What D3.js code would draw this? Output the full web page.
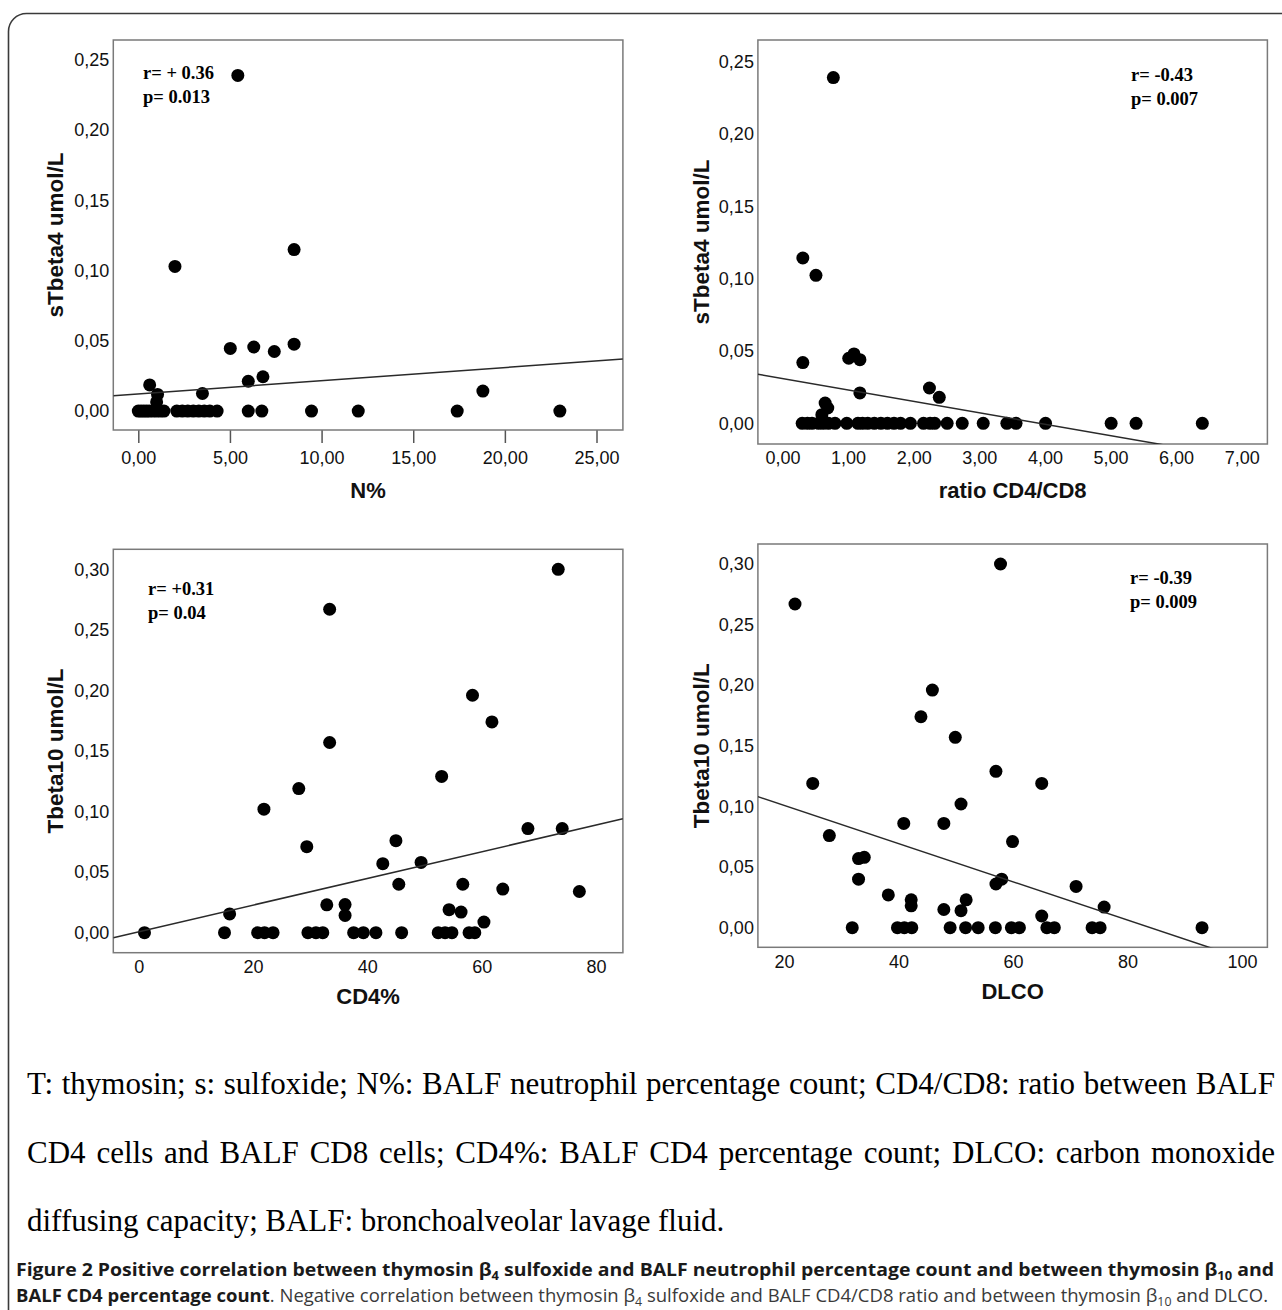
<!DOCTYPE html>
<html>
<head>
<meta charset="utf-8">
<script src="https://cdn.jsdelivr.net/npm/d3@7"></script>
<style>
  body { margin: 0; background: #fff; }
  svg { display: block; }
</style>
</head>
<body>
<div id="chart"></div>
<script>
const width = 1282;
const height = 1310;

// A: BALF neutrophil % vs sTbeta4
const nPct = [5.43, 2.0, 8.5, 5.02, 6.3, 7.42, 8.5, 6.0, 6.8, 0.62, 1.05, 1.0, 3.5, 18.8,
  0, 0.15, 0.3, 0.45, 0.6, 0.8, 1.0, 1.2, 1.4, 2.1, 2.4, 2.7, 3.0, 3.3, 3.6, 3.9, 4.3,
  6.0, 6.74, 9.45, 12.0, 17.4, 23.0];
const nPctTb4 = [0.239, 0.103, 0.115, 0.0446, 0.0456, 0.0424, 0.0476, 0.0212, 0.0244, 0.0186, 0.0118, 0.0065, 0.0125, 0.0142,
  0, 0, 0, 0, 0, 0, 0, 0, 0, 0, 0, 0, 0, 0, 0, 0, 0,
  0, 0, 0, 0, 0, 0];

// B: CD4/CD8 ratio vs sTbeta4
const ratio = [0.775, 0.31, 0.51, 0.31, 1.01, 1.09, 1.18, 1.18, 2.24, 2.39, 0.65, 0.69, 0.6,
  0.3, 0.38, 0.45, 0.55, 0.62, 0.7, 0.8, 0.98, 1.15, 1.22, 1.3, 1.4, 1.5, 1.6, 1.7, 1.8, 1.95, 2.15, 2.25, 2.32,
  2.51, 2.74, 3.06, 3.42, 3.56, 4.01, 5.01, 5.39, 6.4];
const ratioTb4 = [0.239, 0.1143, 0.1023, 0.042, 0.045, 0.048, 0.044, 0.021, 0.0244, 0.018, 0.014, 0.0106, 0.006,
  0, 0, 0, 0, 0, 0, 0, 0, 0, 0, 0, 0, 0, 0, 0, 0, 0, 0, 0, 0,
  0, 0, 0, 0, 0, 0, 0, 0, 0];

// C: CD4% vs Tbeta10
const cd4 = [73.4, 33.4, 58.4, 61.8, 33.4, 53.0, 28.0, 21.9, 29.4, 45.0, 68.1, 74.1, 42.7, 49.4, 45.5, 56.7, 63.7, 77.1,
  32.9, 36.1, 36.1, 15.9, 54.3, 56.4, 60.4,
  1.0, 15.0, 20.8, 22.0, 23.5, 29.6, 31.0, 32.2, 37.6, 39.3, 41.5, 46.0, 52.4, 53.6, 54.8, 57.8, 58.8];
const cd4Tb10 = [0.300, 0.267, 0.196, 0.174, 0.157, 0.129, 0.119, 0.102, 0.071, 0.076, 0.086, 0.086, 0.057, 0.058, 0.040, 0.040, 0.036, 0.034,
  0.023, 0.0232, 0.0143, 0.0155, 0.019, 0.017, 0.0088,
  0, 0, 0, 0, 0, 0, 0, 0, 0, 0, 0, 0, 0, 0, 0, 0, 0];

// D: DLCO vs Tbeta10
const dlco = [57.8, 21.9, 45.9, 43.9, 49.9, 57.0, 65.0, 25.0, 50.9, 40.9, 47.9, 59.9, 27.9, 33.0, 34.0, 33.0, 57.0, 58.0,
  71.0, 38.2, 42.2, 42.2, 51.8, 47.9, 50.9, 75.9, 65.0,
  31.9, 39.8, 41.0, 42.3, 49.0, 51.7, 53.9, 56.9, 59.7, 61.1, 65.9, 67.2, 73.8, 75.2, 93.0];
const dlcoTb10 = [0.300, 0.267, 0.196, 0.174, 0.157, 0.129, 0.119, 0.119, 0.102, 0.086, 0.086, 0.071, 0.076, 0.057, 0.058, 0.040, 0.036, 0.040,
  0.034, 0.027, 0.023, 0.018, 0.023, 0.015, 0.014, 0.017, 0.0096,
  0, 0, 0, 0, 0, 0, 0, 0, 0, 0, 0, 0, 0, 0, 0];

// fit lines: [intercept, slope]
const fitA = [0.0122, 0.00094];
const fitB = [0.031, -0.0079];
const fitC = [0.0008, 0.0011];
const fitD = [0.1324, -0.001577];

const ticksXA = [0, 5, 10, 15, 20, 25];
const ticksXB = [0, 1, 2, 3, 4, 5, 6, 7];
const ticksXC = [0, 20, 40, 60, 80];
const ticksXD = [20, 40, 60, 80, 100];
const ticksY25 = [0, 0.05, 0.10, 0.15, 0.20, 0.25];
const ticksY30 = [0, 0.05, 0.10, 0.15, 0.20, 0.25, 0.30];

const stats = [["r= + 0.36", "p= 0.013"], ["r= -0.43", "p= 0.007"], ["r= +0.31", "p= 0.04"], ["r= -0.39", "p= 0.009"]];

const comma2 = v => d3.format(".2f")(v).replace(".", ",");

const panels = [
  { x: nPct, y: nPctTb4, fit: fitA, xt: ticksXA, yt: ticksY25, xf: comma2, tick: 13,
    box: [113.3, 40, 622.9, 430], xd: [-1.364, 26.44], yd: [-0.0135, 0.2642],
    xTitle: "N%", yTitle: "sTbeta4 umol/L", xTitleY: 497.5, yTitleX: 55, stat: stats[0], statX: 143, statY: 79 },
  { x: ratio, y: ratioTb4, fit: fitB, xt: ticksXB, yt: ticksY25, xf: comma2, tick: 0,
    box: [757.9, 40, 1267.4, 444], xd: [-0.375, 7.392], yd: [-0.0143, 0.265],
    xTitle: "ratio CD4/CD8", yTitle: "sTbeta4 umol/L", xTitleY: 497.5, yTitleX: 701, stat: stats[1], statX: 1131, statY: 81 },
  { x: cd4, y: cd4Tb10, fit: fitC, xt: ticksXC, yt: ticksY30, xf: d3.format("d"), tick: 0,
    box: [113.3, 549.3, 622.9, 952.7], xd: [-4.46, 84.72], yd: [-0.0165, 0.3165],
    xTitle: "CD4%", yTitle: "Tbeta10 umol/L", xTitleY: 1004, yTitleX: 55, stat: stats[2], statX: 148, statY: 594.5 },
  { x: dlco, y: dlcoTb10, fit: fitD, xt: ticksXD, yt: ticksY30, xf: d3.format("d"), tick: 0,
    box: [757.9, 544, 1267.4, 947.3], xd: [15.42, 104.42], yd: [-0.0162, 0.3165],
    xTitle: "DLCO", yTitle: "Tbeta10 umol/L", xTitleY: 999, yTitleX: 701, stat: stats[3], statX: 1130, statY: 583.5 }
];

const svg = d3.select("#chart")
  .append("svg")
  .attr("width", width)
  .attr("height", height);

svg.append("rect")
  .attr("x", 8.5).attr("y", 13.5)
  .attr("width", 1300).attr("height", 1330)
  .attr("rx", 18)
  .attr("fill", "none")
  .attr("stroke", "#3a3a3a")
  .attr("stroke-width", 1.6);

panels.forEach((p, k) => {
  const [x0, y0, x1, y1] = p.box;
  const xScale = d3.scaleLinear().domain(p.xd).range([x0, x1]);
  const yScale = d3.scaleLinear().domain(p.yd).range([y1, y0]);
  const g = svg.append("g");

  g.append("clipPath").attr("id", "clip" + k)
    .append("rect").attr("x", x0).attr("y", y0).attr("width", x1 - x0).attr("height", y1 - y0);

  // y axis labels
  const yAxis = g.append("g")
    .attr("transform", `translate(${x0}, 0)`)
    .call(d3.axisLeft(yScale).tickValues(p.yt).tickFormat(comma2).tickSize(0).tickPadding(4));
  yAxis.select(".domain").remove();

  const xAxis = g.append("g")
    .attr("transform", `translate(0, ${y1})`)
    .call(d3.axisBottom(xScale).tickValues(p.xt).tickFormat(p.xf).tickSize(p.tick).tickPadding(p.tick ? 8 : 7.5));
  xAxis.select(".domain").remove();
  xAxis.selectAll(".tick line").attr("stroke", "#555").attr("stroke-width", 1.5);

  g.selectAll(".tick text")
    .attr("font-family", "'Liberation Sans', Arial, sans-serif")
    .attr("font-size", 18)
    .attr("fill", "#111");

  g.append("rect")
    .attr("x", x0).attr("y", y0)
    .attr("width", x1 - x0).attr("height", y1 - y0)
    .attr("fill", "none")
    .attr("stroke", "#7a7a7a")
    .attr("stroke-width", 1.5);

  const pts = p.x.map((v, i) => ({ x: v, y: p.y[i] }));
  g.append("g")
    .selectAll("circle")
    .data(pts)
    .enter()
    .append("circle")
    .attr("cx", d => xScale(d.x))
    .attr("cy", d => yScale(d.y))
    .attr("r", 6.5)
    .attr("fill", "#000");

  g.append("line")
    .attr("clip-path", `url(#clip${k})`)
    .attr("x1", xScale(p.xd[0]))
    .attr("y1", yScale(p.fit[0] + p.fit[1] * p.xd[0]))
    .attr("x2", xScale(p.xd[1]))
    .attr("y2", yScale(p.fit[0] + p.fit[1] * p.xd[1]))
    .attr("stroke", "#2a2a2a")
    .attr("stroke-width", 1.5);

  g.append("text")
    .attr("x", (x0 + x1) / 2)
    .attr("y", p.xTitleY)
    .attr("text-anchor", "middle")
    .attr("font-family", "'Liberation Sans', Arial, sans-serif")
    .attr("font-weight", "bold")
    .attr("font-size", 22)
    .attr("fill", "#111")
    .text(p.xTitle);

  g.append("text")
    .attr("transform", `translate(${p.yTitleX}, ${(y0 + y1) / 2}) rotate(-90)`)
    .attr("text-anchor", "middle")
    .attr("dy", "0.36em")
    .attr("font-family", "'Liberation Sans', Arial, sans-serif")
    .attr("font-weight", "bold")
    .attr("font-size", 22.5)
    .attr("fill", "#111")
    .text(p.yTitle);

  g.selectAll(".stat")
    .data(p.stat)
    .enter()
    .append("text")
    .attr("class", "stat")
    .attr("x", p.statX)
    .attr("y", (d, i) => p.statY + i * 24)
    .attr("font-family", "'Liberation Serif', 'Times New Roman', serif")
    .attr("font-weight", "bold")
    .attr("font-size", 18.5)
    .attr("fill", "#000")
    .text(d => d);
});

// note under the figure, justified word by word
const noteLines = [
  "T: thymosin; s: sulfoxide; N%: BALF neutrophil percentage count; CD4/CD8: ratio between BALF",
  "CD4 cells and BALF CD8 cells; CD4%: BALF CD4 percentage count; DLCO: carbon monoxide",
  "diffusing capacity; BALF: bronchoalveolar lavage fluid."
];
const noteY = [1094, 1163, 1231];

noteLines.forEach((line, li) => {
  const words = line.split(" ");
  const texts = svg.append("g")
    .selectAll("text")
    .data(words)
    .enter()
    .append("text")
    .attr("y", noteY[li])
    .attr("font-family", "'Liberation Serif', 'Times New Roman', serif")
    .attr("font-size", 31)
    .attr("fill", "#000")
    .text(d => d);
  const widths = texts.nodes().map(n => n.getComputedTextLength());
  const space = 7.5;
  const gap = li < 2 ? (1275 - 27 - d3.sum(widths)) / (words.length - 1) : space;
  let cx = 27;
  texts.attr("x", (d, i) => { const xi = cx; cx += widths[i] + gap; return xi; });
});

// figure caption
const capFont = "'Liberation Sans Narrow', 'Open Sans', 'Liberation Sans', sans-serif";
const cap1 = [
  { t: "Figure 2 Positive correlation between thymosin β", b: true },
  { t: "4", b: true, sub: true },
  { t: " sulfoxide and BALF neutrophil percentage count and between thymosin β", b: true },
  { t: "10", b: true, sub: true },
  { t: " and", b: true }
];
const cap2 = [
  { t: "BALF CD4 percentage count", b: true },
  { t: ". Negative correlation between thymosin β", b: false },
  { t: "4", b: false, sub: true },
  { t: " sulfoxide and BALF CD4/CD8 ratio and between thymosin β", b: false },
  { t: "10", b: false, sub: true },
  { t: " and DLCO.", b: false }
];

[[cap1, 1276, 1258], [cap2, 1302, 1252]].forEach(([segs, y, len]) => {
  const txt = svg.append("text")
    .attr("x", 16)
    .attr("y", y)
    .attr("font-family", capFont)
    .attr("font-size", 18)
    .attr("textLength", len)
    .attr("lengthAdjust", "spacingAndGlyphs");
  let shifted = false;
  segs.forEach(s => {
    const ts = txt.append("tspan")
      .attr("font-weight", s.b ? "bold" : "normal")
      .attr("fill", s.b ? "#1a1a1a" : "#3a3a3a")
      .text(s.t);
    if (s.sub) { ts.attr("dy", 4).attr("font-size", 12); shifted = true; }
    else if (shifted) { ts.attr("dy", -4); shifted = false; }
  });
});
</script>
</body>
</html>
